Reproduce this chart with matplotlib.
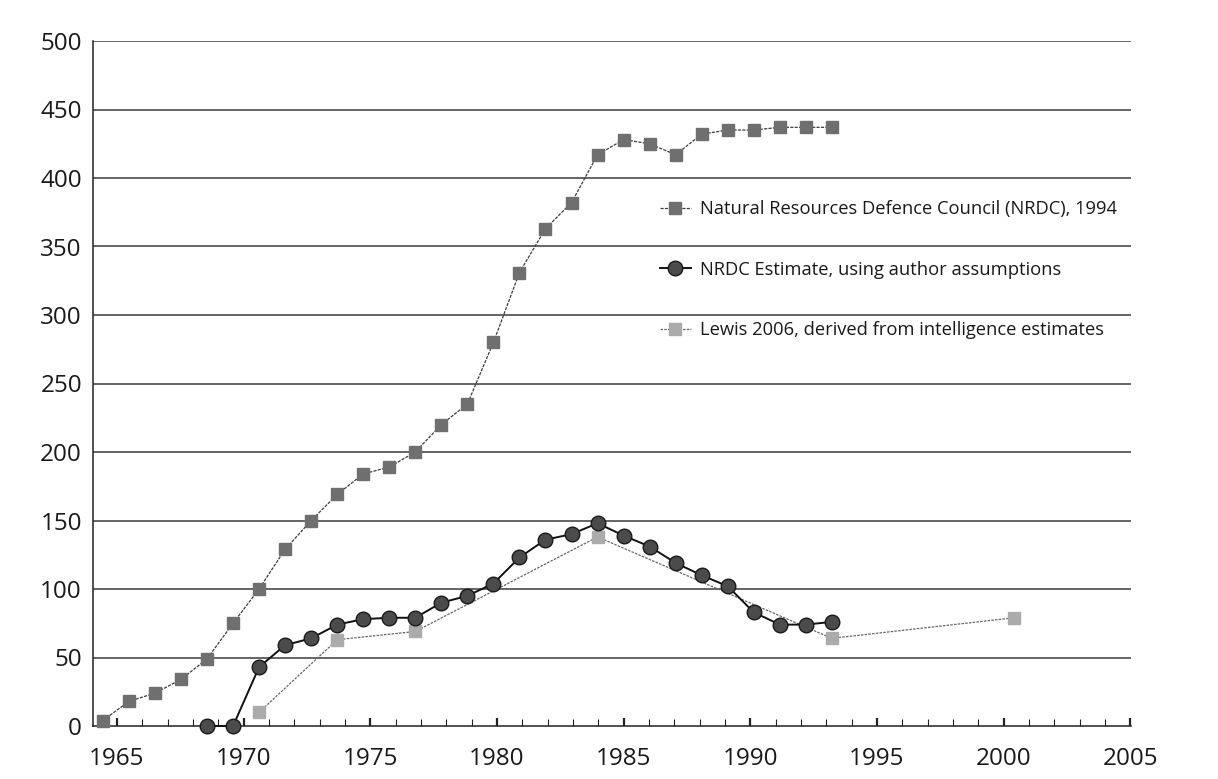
import numpy as np
import matplotlib
matplotlib.use("Agg")
import matplotlib.pyplot as plt

# data
nrdc_years = list(range(1965, 1994))
nrdc_1994 = [4, 18, 24, 34, 49, 75, 100, 129, 150, 169, 184, 189, 200, 220, 235,
             280, 331, 363, 382, 417, 428, 425, 417, 432, 435, 435, 437, 437, 437]

est_years = list(range(1969, 1994))
nrdc_est = [0, 0, 43, 59, 64, 74, 78, 79, 79, 90, 95, 104, 123, 136, 140,
            148, 139, 131, 119, 110, 102, 83, 74, 74, 76]

lewis_years = [1971, 1974, 1977, 1984, 1993, 2000]
lewis_2006 = [10, 63, 69, 138, 64, 79]

tick_years = list(range(1965, 2006))
y_ticks = list(range(0, 501, 50))

labels = ["Natural Resources Defence Council (NRDC), 1994",
          "NRDC Estimate, using author assumptions",
          "Lewis 2006, derived from intelligence estimates"]

plt.rcParams['font.family'] = ['Open Sans', 'DejaVu Sans']

fig = plt.figure(figsize=(12.18, 7.79), dpi=100)
ax = fig.add_axes([93 / 1218, 1 - 726 / 779, (1131 - 93) / 1218, (726 - 41) / 779])

# gridlines
for v in y_ticks[1:]:
    ax.axhline(v, color='#3a3a3a', lw=1.1, zorder=1)

ax.plot(nrdc_years, nrdc_1994, color='#3c3c3c', lw=0.9, ls=(0, (2.5, 1)),
        marker='s', ms=8.5, mfc='#6f6f6f', mec='#6f6f6f', zorder=3,
        clip_on=False, label=labels[0])
ax.plot(est_years, nrdc_est, color='#111111', lw=1.4, marker='o', ms=10.5,
        mfc='#4b4b4b', mec='#1a1a1a', mew=1.0, zorder=4, clip_on=False,
        label=labels[1])
ax.plot(lewis_years, lewis_2006, color='#666666', lw=0.9, ls=(0, (2, 1)),
        marker='s', ms=8.5, mfc='#ababab', mec='#ababab', zorder=2,
        clip_on=False, label=labels[2])

# axis ticks in the source sit slightly off the data years
tick_pos = [1965.54 + (t - 1965) * 0.973 for t in tick_years]
ax.set_xlim(1964.62, 2004.49)
ax.set_ylim(0, 500)
ax.set_xticks(tick_pos[::5])
ax.set_xticklabels([str(t) for t in tick_years[::5]])
ax.set_xticks(tick_pos, minor=True)
ax.set_yticks(y_ticks)

ax.tick_params(axis='x', which='major', direction='in', length=6, width=1.6,
               color='#222222', labelsize=17.5, pad=15, labelcolor='#1a1a1a')
ax.tick_params(axis='x', which='minor', direction='in', length=5, width=0.8,
               color='#222222')
ax.tick_params(axis='y', length=0, labelsize=17.5, pad=8, labelcolor='#1a1a1a')

for s in ['top', 'right']:
    ax.spines[s].set_visible(False)
for s in ['left', 'bottom']:
    ax.spines[s].set_color('#222222')
    ax.spines[s].set_linewidth(1.1)

ax.legend(loc='upper left', bbox_to_anchor=(0.546, 0.768), frameon=False,
          fontsize=13.2, labelspacing=2.33, handlelength=1.7, handletextpad=0.5,
          borderpad=0, borderaxespad=0, labelcolor='#1a1a1a')

fig.savefig("out.png", dpi=100)
